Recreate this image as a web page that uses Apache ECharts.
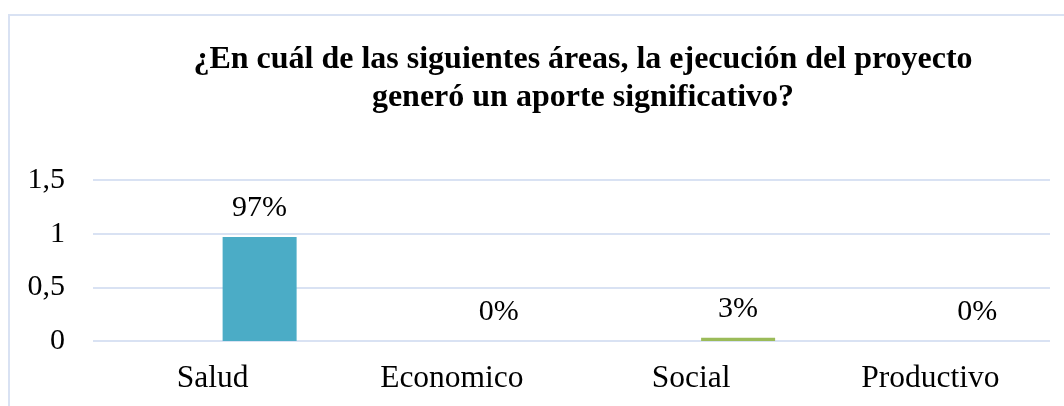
<!DOCTYPE html>
<html>
<head>
<meta charset="utf-8">
<script src="https://cdn.jsdelivr.net/npm/echarts@6/dist/echarts.min.js"></script>
<style>
  html, body { margin: 0; padding: 0; background: #fff; }
  #chart { width: 1064px; height: 406px; }
</style>
</head>
<body>
<div id="chart"></div>
<script>
// datos del gráfico
const categories = ["Salud", "Economico", "Social", "Productivo"];
const values = [0.97, 0, 0.03, 0];
const barColors = ["#4bacc6", "#c0504d", "#9bbb59", "#8064a2"];
const yTicks = [0, 0.5, 1, 1.5];

const titleText = "¿En cuál de las siguientes áreas, la ejecución del proyecto\ngeneró un aporte significativo?";
const serif = "'Liberation Serif', 'Times New Roman', serif";

const chart = echarts.init(document.getElementById("chart"), null, { renderer: "canvas" });

const option = {
  backgroundColor: "#fff",
  animation: false,
  title: {
    text: titleText,
    left: 578,
    top: 36,
    textAlign: "center",
    textStyle: {
      fontFamily: serif,
      fontWeight: "bold",
      fontSize: 32,
      lineHeight: 38,
      color: "#000",
    },
  },
  graphic: [
    {
      type: "rect",
      shape: { x: 9, y: 15, width: 1200, height: 500 },
      style: { fill: "none", stroke: "#d9e2f3", lineWidth: 2 },
      silent: true,
    },
  ],
  grid: { left: 93, right: 14, top: 180, bottom: 65 },
  xAxis: {
    type: "category",
    data: categories,
    axisLine: { show: false },
    axisTick: { show: false },
    axisLabel: {
      margin: 22,
      fontFamily: serif,
      fontSize: 31.5,
      color: "#000",
    },
  },
  yAxis: {
    type: "value",
    min: yTicks[0],
    max: yTicks[yTicks.length - 1],
    interval: 0.5,
    axisLine: { show: false },
    axisTick: { show: false },
    splitLine: { lineStyle: { color: "#d9e2f3", width: 2 } },
    axisLabel: {
      margin: 28,
      fontFamily: serif,
      fontSize: 30,
      color: "#000",
      formatter: (v) => String(v).replace(".", ","),
    },
  },
  series: [
    {
      // serie vacía que ocupa el primer hueco del grupo
      type: "bar",
      data: categories.map(() => "-"),
      barWidth: 74,
      barGap: "27%",
      silent: true,
    },
    {
      type: "bar",
      barWidth: 74,
      barGap: "27%",
      data: values.map((v, i) => ({ value: v, itemStyle: { color: barColors[i] } })),
      label: {
        show: true,
        position: "top",
        distance: 14,
        fontFamily: serif,
        fontSize: 30,
        color: "#000",
        formatter: (p) => Math.round(p.value * 100) + "%",
      },
    },
  ],
};

chart.setOption(option);
</script>
</body>
</html>
